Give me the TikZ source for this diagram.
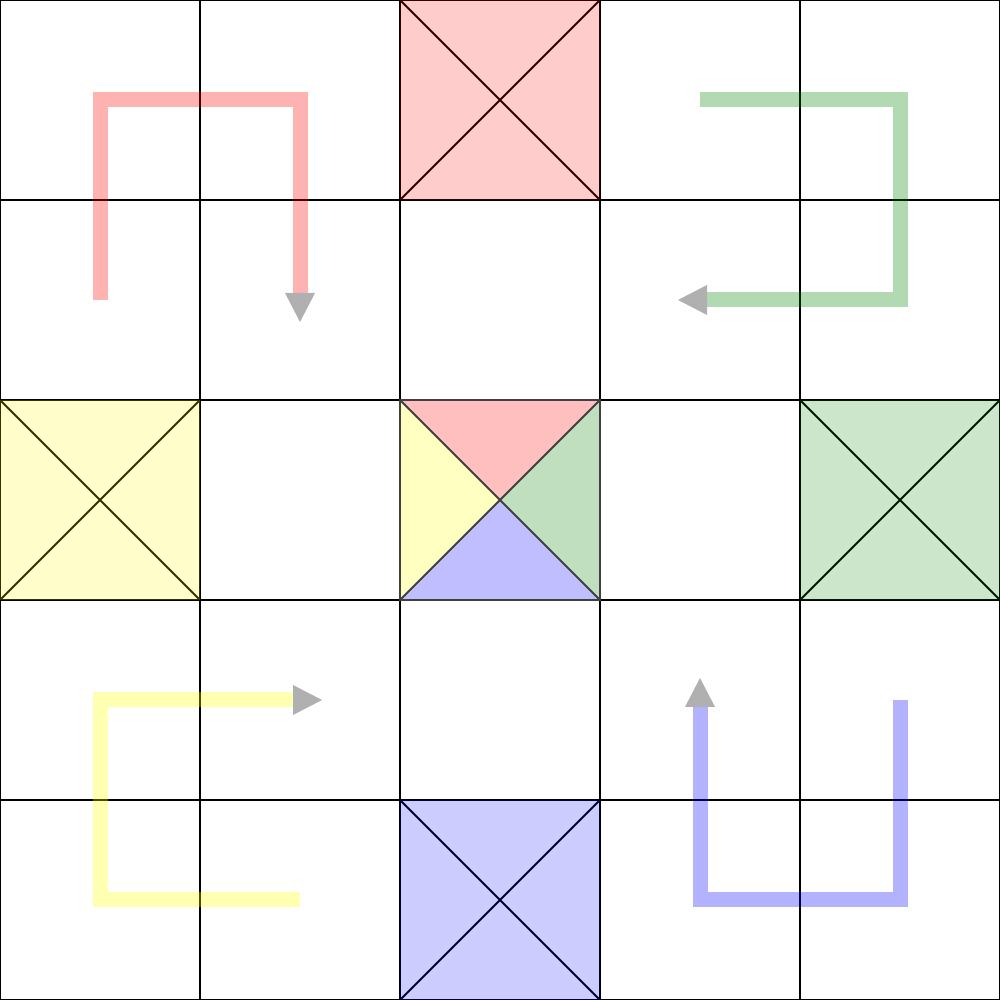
\documentclass[tikz,border=0pt]{standalone}
\usepackage{tikz}
\usetikzlibrary{arrows.meta}
\definecolor{pathred}{RGB}{255,0,0}
\definecolor{pathgreen}{RGB}{0,128,0}
\definecolor{pathyellow}{RGB}{255,255,0}
\definecolor{pathblue}{RGB}{0,0,255}
\definecolor{tipgray}{RGB}{176,176,176}
\begin{document}
\begin{tikzpicture}[x=20mm, y=20mm,
		gridline/.style={line width=0.55pt, black},
		crossline/.style={line width=0.55pt, black},
		cellfill/.style={fill=#1, fill opacity=0.2},
		route/.style={#1, line width=1.5mm, draw opacity=0.3, line join=miter,
			-{Triangle[length=2.9mm, width=3mm, line width=0pt, color=tipgray]}}]
				\useasboundingbox (0,0) rectangle (5,5);
				%Raster zeichnen
				\draw [gridline] [step=20mm] (0,0) grid (5,5);
				% Kreuze in den farbigen Feldern
				\foreach \cx/\cy/\col in {2/4/pathred, 0/2/pathyellow, 4/2/pathgreen, 2/0/pathblue} {
					\draw[crossline] (\cx,\cy) -- ++(1,1) (\cx,\cy+1) -- ++(1,-1);
					\fill[cellfill=\col] (\cx,\cy) rectangle ++(1,1);
				}
				% Mittelfeld in vier Dreiecke
				\coordinate (m) at (2.5,2.5);
				\fill[pathred, fill opacity=0.25] (2,3) -- (3,3) -- (m) -- cycle;
				\fill[pathyellow, fill opacity=0.25] (2,2) -- (2,3) -- (m) -- cycle;
				\fill[pathgreen, fill opacity=0.25] (3,2) -- (3,3) -- (m) -- cycle;
				\fill[pathblue, fill opacity=0.25] (2,2) -- (3,2) -- (m) -- cycle;
				\draw[crossline, black!75] (2,2) -- (3,3) (2,3) -- (3,2);
				\draw[crossline, black!75] (2,2) rectangle (3,3);
				%Wege zeichnen
				\draw[route=pathred] (0.5,3.5) -- (0.5,4.5) -- (1.5,4.5) -- (1.5,3.39);
				\draw[route=pathgreen] (3.5,4.5) -- (4.5,4.5) -- (4.5,3.5) -- (3.39,3.5);
				\draw[route=pathyellow] (1.5,0.5) -- (0.5,0.5) -- (0.5,1.5) -- (1.61,1.5);
				\draw[route=pathblue] (4.5,1.5) -- (4.5,0.5) -- (3.5,0.5) -- (3.5,1.61);
		\end{tikzpicture}
\end{document}
